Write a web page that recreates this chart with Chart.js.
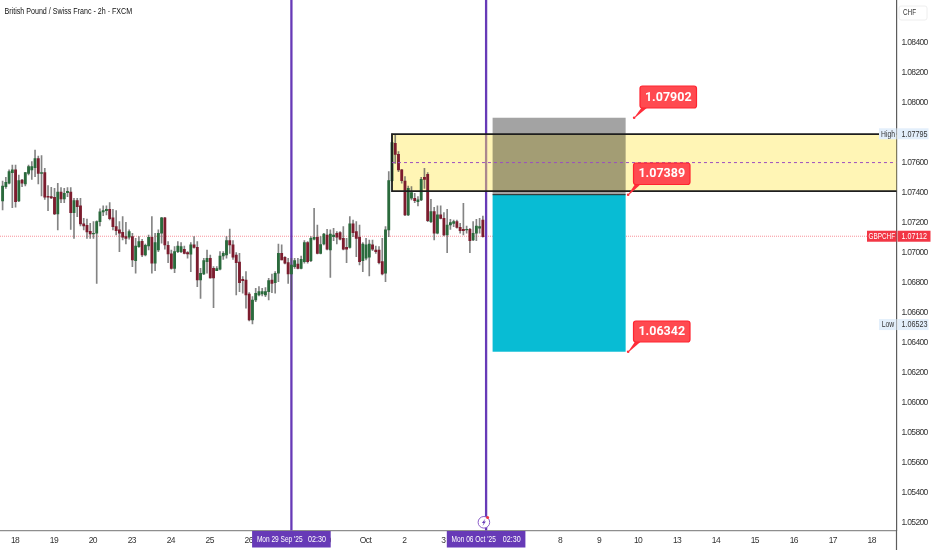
<!DOCTYPE html>
<html>
<head>
<meta charset="utf-8">
<title>GBPCHF 2h</title>
<script src="https://cdn.jsdelivr.net/npm/chart.js@4"></script>
<style>
    html, body { margin: 0; padding: 0; background: #fff; }
    canvas { display: block; }
</style>
</head>
<body>
<canvas id="Chart" width="932" height="550"></canvas>
<script>
var candleOpen = [1.07347,1.07443,1.07465,1.07536,1.07554,1.07347,1.07487,1.07460,1.07531,1.07554,1.07569,1.07629,1.07531,1.07536,1.07378,1.07376,1.07372,1.07260,1.07407,1.07360,
1.07403,1.07407,1.07269,1.07349,1.07314,1.07194,1.07185,1.07145,1.07127,1.07132,1.07209,1.07274,1.07283,1.07292,1.07234,1.07176,1.07154,1.07138,1.07109,1.07105,
1.07109,1.06949,1.07043,1.07078,1.06987,1.07047,1.07105,1.06932,1.07020,1.07132,1.07234,1.07052,1.06994,1.06898,1.07009,1.07009,1.07025,1.07003,1.06992,1.07054,
1.07038,1.06820,1.06860,1.06943,1.06965,1.06898,1.06883,1.06892,1.06980,1.06987,1.07083,1.07054,1.06987,1.06940,1.06825,1.06820,1.06727,1.06554,1.06687,1.06720,
1.06727,1.06720,1.06743,1.06820,1.06803,1.06865,1.06998,1.06972,1.06936,1.06860,1.06909,1.06927,1.06898,1.06943,1.07069,1.06949,1.07092,1.07105,1.06998,1.07060,
1.07120,1.07020,1.07109,1.07132,1.07136,1.07098,1.07038,1.07038,1.07194,1.07143,1.07105,1.06949,1.06965,1.06972,1.07054,1.07020,1.07020,1.06943,1.06865,1.07154,
1.07483,1.07731,1.07658,1.07554,1.07480,1.07254,1.07365,1.07365,1.07343,1.07354,1.07505,1.07525,1.07209,1.07276,1.07132,1.07254,1.07231,1.07120,1.07187,1.07198,
1.07209,1.07171,1.07158,1.07154,1.07158,1.07087,1.07132,1.07165,1.07220]
var candleHigh = [1.07480,1.07505,1.07554,1.07587,1.07587,1.07520,1.07491,1.07538,1.07587,1.07609,1.07687,1.07647,1.07649,1.07565,1.07449,1.07438,1.07431,1.07465,1.07436,1.07431,
1.07436,1.07436,1.07365,1.07365,1.07365,1.07231,1.07227,1.07198,1.07209,1.07214,1.07294,1.07314,1.07314,1.07336,1.07292,1.07283,1.07209,1.07243,1.07205,1.07154,
1.07132,1.07098,1.07109,1.07092,1.07060,1.07120,1.07243,1.07132,1.07154,1.07238,1.07238,1.07076,1.07020,1.07043,1.07076,1.07069,1.07047,1.07009,1.07069,1.07109,
1.07076,1.06898,1.06965,1.07020,1.06987,1.06909,1.06909,1.07009,1.07009,1.07109,1.07160,1.07083,1.07003,1.06998,1.06843,1.06876,1.06736,1.06709,1.06765,1.06776,
1.06765,1.06769,1.06832,1.06860,1.06876,1.07060,1.07054,1.06976,1.06965,1.06965,1.06965,1.06965,1.06980,1.07083,1.07076,1.07109,1.07298,1.07187,1.07109,1.07132,
1.07158,1.07154,1.07165,1.07143,1.07143,1.07176,1.07098,1.07243,1.07220,1.07209,1.07187,1.07069,1.07098,1.07087,1.07087,1.07047,1.07043,1.07098,1.07176,1.07543,
1.07794,1.07787,1.07676,1.07558,1.07509,1.07447,1.07443,1.07398,1.07376,1.07505,1.07565,1.07536,1.07358,1.07305,1.07314,1.07314,1.07269,1.07292,1.07225,1.07220,
1.07220,1.07198,1.07331,1.07180,1.07165,1.07209,1.07225,1.07231,1.07247]
var candleLow = [1.07287,1.07431,1.07460,1.07303,1.07305,1.07343,1.07443,1.07447,1.07520,1.07491,1.07509,1.07460,1.07380,1.07358,1.07283,1.07363,1.07256,1.07154,1.07336,1.07336,
1.07376,1.07158,1.07098,1.07243,1.07180,1.07154,1.07098,1.07098,1.07098,1.06798,1.07180,1.07249,1.07254,1.07220,1.07154,1.07120,1.07009,1.07087,1.07060,1.07092,
1.06909,1.06865,1.07038,1.06976,1.06980,1.07020,1.06865,1.06883,1.07009,1.07065,1.07025,1.06936,1.06892,1.06869,1.07003,1.07003,1.06994,1.06965,1.06876,1.07032,
1.06776,1.06698,1.06856,1.06865,1.06832,1.06636,1.06883,1.06887,1.06958,1.06965,1.06998,1.06958,1.06720,1.06743,1.06732,1.06632,1.06547,1.06527,1.06676,1.06714,
1.06714,1.06709,1.06687,1.06736,1.06732,1.06809,1.06954,1.06927,1.06798,1.06687,1.06898,1.06894,1.06894,1.06932,1.06932,1.06943,1.07087,1.06994,1.06994,1.07054,
1.07020,1.06838,1.07083,1.07060,1.07087,1.07020,1.06936,1.07032,1.07109,1.06976,1.06920,1.06876,1.06954,1.06847,1.07016,1.06998,1.06927,1.06854,1.06809,1.07109,
1.07476,1.07598,1.07543,1.07465,1.07249,1.07249,1.07354,1.07336,1.07314,1.07349,1.07431,1.07209,1.07203,1.07087,1.07127,1.07227,1.07114,1.07003,1.07158,1.07176,
1.07165,1.07132,1.07120,1.07132,1.07003,1.07083,1.07083,1.07132,1.07105]
var candleClose = [1.07447,1.07471,1.07543,1.07554,1.07343,1.07483,1.07465,1.07536,1.07576,1.07576,1.07629,1.07531,1.07536,1.07372,1.07372,1.07367,1.07260,1.07407,1.07360,1.07398,
1.07411,1.07269,1.07349,1.07309,1.07194,1.07180,1.07140,1.07127,1.07132,1.07209,1.07274,1.07283,1.07292,1.07229,1.07176,1.07149,1.07132,1.07105,1.07098,1.07143,
1.06954,1.07047,1.07076,1.06987,1.07052,1.07105,1.06932,1.07069,1.07132,1.07234,1.07054,1.06994,1.06898,1.07009,1.07047,1.07043,1.06998,1.06994,1.07054,1.07038,
1.06820,1.06865,1.06949,1.06965,1.06834,1.06834,1.06896,1.06980,1.06998,1.07083,1.07054,1.06972,1.06936,1.06803,1.06816,1.06720,1.06554,1.06687,1.06732,1.06743,
1.06743,1.06743,1.06816,1.06798,1.06865,1.06998,1.06954,1.06932,1.06860,1.06920,1.06949,1.06898,1.06958,1.07069,1.06943,1.07098,1.07105,1.06998,1.07056,1.07127,
1.07025,1.07127,1.07120,1.07105,1.07092,1.07025,1.07025,1.07194,1.07136,1.07098,1.06943,1.07060,1.07054,1.07060,1.07025,1.07009,1.06936,1.06860,1.07154,1.07483,
1.07736,1.07658,1.07554,1.07483,1.07254,1.07431,1.07403,1.07349,1.07354,1.07491,1.07491,1.07216,1.07276,1.07132,1.07254,1.07231,1.07120,1.07187,1.07203,1.07209,
1.07171,1.07149,1.07149,1.07158,1.07083,1.07132,1.07180,1.07176,1.07109]

var xTickLabels = ['18','19','20','23','24','25','26','29','30','Oct','2','3','6','7','8','9','10','13','14','15','16','17','18']
var firstDayTick = 3.82
var barsPerDay = 12
var yTickValues = [1.084,1.082,1.08,1.078,1.076,1.074,1.072,1.07,1.068,1.066,1.064,1.062,1.06,1.058,1.056,1.054,1.052]

var marketHigh = 1.07795
var marketLow = 1.06523
var lastPrice = 1.07112
var zoneTop = 1.07793
var zoneBottom = 1.07413
var zoneMiddle = 1.07603
var zoneStart = 120
var stopPrice = 1.07902
var entryPrice = 1.07389
var targetPrice = 1.06342
var tradeStart = 151
var tradeEnd = 192
var verticalBars = [89, 149]
var verticalDates = ["Mon 29 Sep '25", "Mon 06 Oct '25"]
var verticalTime = '02:30'

var smallFont = '8.5px "Liberation Sans"'
var tightText = '-0.65px'

var wickData = []
var bodyData = []
var bodyColors = []
for (var i = 0; i < candleOpen.length; i++) {
    wickData.push({ x: i, y: [candleLow[i], candleHigh[i]] })
    bodyData.push({ x: i, y: [candleOpen[i], candleClose[i]] })
    bodyColors.push(candleClose[i] >= candleOpen[i] ? '#2a6a3c' : '#7c1c2e')
}

var xTickValues = xTickLabels.map((l, k) => firstDayTick + k * barsPerDay)

function roundBox(ctx, x, y, w, h, r) {
    ctx.beginPath()
    ctx.roundRect(x, y, w, h, r)
}

// the reference text is a condensed face, none is installed
function narrowText(ctx, text, x, y, align, squeeze) {
    ctx.save()
    ctx.letterSpacing = '0px'
    ctx.translate(x, y)
    ctx.scale(squeeze, 1)
    ctx.textAlign = align
    ctx.textBaseline = 'middle'
    ctx.fillText(text, 0, 0)
    ctx.restore()
}

function callout(ctx, tipX, tipY, boxX, boxY, w, h, text) {
    ctx.fillStyle = '#ff2d3a'
    ctx.beginPath()
    ctx.moveTo(tipX, tipY)
    ctx.lineTo(boxX + 2, boxY + h - 1)
    ctx.lineTo(boxX + 8, boxY + h - 1)
    ctx.lineTo(tipX + 1.5, tipY - 0.5)
    ctx.closePath()
    ctx.fill()
    ctx.beginPath()
    ctx.arc(tipX, tipY, 1.3, 0, Math.PI * 2)
    ctx.fill()
    roundBox(ctx, boxX, boxY, w, h, 2.5)
    ctx.fillStyle = '#ff4a50'
    ctx.fill()
    ctx.strokeStyle = '#ff2430'
    ctx.lineWidth = 1.2
    ctx.stroke()
    ctx.fillStyle = '#fff'
    ctx.font = 'bold 12.5px Roboto'
    ctx.letterSpacing = '0px'
    ctx.textAlign = 'center'
    ctx.textBaseline = 'middle'
    ctx.fillText(text, boxX + w / 2, boxY + h / 2 + 0.5)
}

function axisTag(ctx, xa, y, text, tagText) {
    ctx.font = smallFont
    ctx.fillStyle = '#e3effb'
    ctx.fillRect(xa + 1, y - 5.5, 31, 11)
    ctx.fillRect(xa - 17.5, y - 5.5, 17.5, 11)
    ctx.fillStyle = '#333'
    narrowText(ctx, text, xa + 5, y + 0.5, 'left', 0.85)
    narrowText(ctx, tagText, xa - 8.5, y + 0.5, 'center', 0.8)
}

var drawingsPlugin = {
    id: 'drawings',
    beforeDraw(chart) {
        chart.ctx.letterSpacing = tightText
    },
    beforeDatasetsDraw(chart) {
        var ctx = chart.ctx
        var sx = chart.scales.x
        var sy = chart.scales.y
        var axisX = chart.chartArea.right
        var axisY = chart.chartArea.bottom

        ctx.save()

        // last price line
        ctx.strokeStyle = 'rgba(242,54,69,0.55)'
        ctx.lineWidth = 1
        ctx.setLineDash([1, 1])
        ctx.beginPath()
        ctx.moveTo(0, sy.getPixelForValue(lastPrice))
        ctx.lineTo(axisX - 29, sy.getPixelForValue(lastPrice))
        ctx.stroke()
        ctx.setLineDash([])

        // vertical lines
        ctx.strokeStyle = '#673ab7'
        ctx.lineWidth = 2.3
        verticalBars.forEach(b => {
            ctx.beginPath()
            ctx.moveTo(sx.getPixelForValue(b), 0)
            ctx.lineTo(sx.getPixelForValue(b), axisY)
            ctx.stroke()
        })

        // yellow zone
        var zx = sx.getPixelForValue(zoneStart)
        var zt = sy.getPixelForValue(zoneTop)
        var zb = sy.getPixelForValue(zoneBottom)
        ctx.fillStyle = 'rgba(255,232,90,0.45)'
        ctx.fillRect(zx, zt, axisX - zx, zb - zt)

        ctx.restore()
    },
    afterDatasetsDraw(chart) {
        var ctx = chart.ctx
        var sx = chart.scales.x
        var sy = chart.scales.y
        var axisX = chart.chartArea.right
        var axisY = chart.chartArea.bottom
        var zx = sx.getPixelForValue(zoneStart)
        var zt = sy.getPixelForValue(zoneTop)
        var zb = sy.getPixelForValue(zoneBottom)

        ctx.save()

        // trade boxes
        var tx1 = sx.getPixelForValue(tradeStart)
        var tx2 = sx.getPixelForValue(tradeEnd)
        var ty1 = sy.getPixelForValue(stopPrice)
        var ty2 = sy.getPixelForValue(entryPrice)
        var ty3 = sy.getPixelForValue(targetPrice)
        ctx.fillStyle = 'rgba(0,0,0,0.36)'
        ctx.fillRect(tx1, ty1, tx2 - tx1, ty2 - ty1)
        ctx.fillStyle = '#08bcd4'
        ctx.fillRect(tx1, ty2, tx2 - tx1, ty3 - ty2)
        ctx.strokeStyle = '#222'
        ctx.lineWidth = 1
        ctx.beginPath()
        ctx.moveTo(tx1, ty2)
        ctx.lineTo(tx2, ty2)
        ctx.stroke()

        // zone border and middle
        ctx.strokeStyle = '#1e1e1e'
        ctx.lineWidth = 1.8
        ctx.beginPath()
        ctx.moveTo(axisX, zt)
        ctx.lineTo(zx, zt)
        ctx.lineTo(zx, zb)
        ctx.lineTo(axisX, zb)
        ctx.stroke()
        ctx.strokeStyle = '#9c4fc0'
        ctx.lineWidth = 1
        ctx.setLineDash([3, 3])
        ctx.beginPath()
        ctx.moveTo(zx, sy.getPixelForValue(zoneMiddle))
        ctx.lineTo(axisX, sy.getPixelForValue(zoneMiddle))
        ctx.stroke()
        ctx.setLineDash([])

        // callouts
        callout(ctx, tx2 + 8.5, ty1, 640, 86, 56.5, 22, stopPrice.toFixed(5))
        callout(ctx, tx2 + 2.5, ty2, 633.5, 163, 56.5, 21.5, entryPrice.toFixed(5))
        callout(ctx, tx2 + 2.5, ty3, 633.5, 321, 56.5, 21, targetPrice.toFixed(5))

        // date tags on the time axis
        ctx.font = smallFont
        verticalBars.forEach((b, k) => {
            var px = sx.getPixelForValue(b)
            ctx.fillStyle = '#673ab7'
            ctx.fillRect(px - 39.3, axisY + 0.5, 78.6, 16.5)
            ctx.fillStyle = '#fff'
            narrowText(ctx, verticalDates[k], px - 34.5, axisY + 9, 'left', 0.77)
            narrowText(ctx, verticalTime, px + 34.5, axisY + 9, 'right', 0.84)
        })

        // lightning marker
        var lx = sx.getPixelForValue(verticalBars[1]) - 2.2
        ctx.fillStyle = '#fff'
        ctx.strokeStyle = '#8a5cc8'
        ctx.lineWidth = 1
        ctx.beginPath()
        ctx.arc(lx, 522.3, 5.8, 0, Math.PI * 2)
        ctx.fill()
        ctx.stroke()
        ctx.fillStyle = '#673ab7'
        ctx.beginPath()
        ctx.moveTo(lx + 1.6, 518.6)
        ctx.lineTo(lx - 2, 523)
        ctx.lineTo(lx - 0.2, 523)
        ctx.lineTo(lx - 1.4, 526)
        ctx.lineTo(lx + 2, 521.6)
        ctx.lineTo(lx + 0.2, 521.6)
        ctx.closePath()
        ctx.fill()
        ctx.fillStyle = '#f23645'
        ctx.beginPath()
        ctx.arc(lx + 3.7, 517.6, 1.5, 0, Math.PI * 2)
        ctx.fill()

        // price axis tags
        axisTag(ctx, axisX, sy.getPixelForValue(marketHigh), marketHigh.toFixed(5), 'High')
        axisTag(ctx, axisX, sy.getPixelForValue(marketLow), marketLow.toFixed(5), 'Low')
        var ly = sy.getPixelForValue(lastPrice)
        ctx.fillStyle = '#f23645'
        ctx.fillRect(axisX - 29.5, ly - 5.5, 29.5, 11)
        ctx.fillRect(axisX + 1, ly - 5.5, 33, 11)
        ctx.fillStyle = '#fff'
        narrowText(ctx, 'GBPCHF', axisX - 14.7, ly + 0.5, 'center', 0.75)
        narrowText(ctx, lastPrice.toFixed(5), axisX + 5, ly + 0.5, 'left', 0.85)

        // axis line runs on through the corner
        ctx.strokeStyle = '#5c5c5c'
        ctx.lineWidth = 1.2
        ctx.beginPath()
        ctx.moveTo(axisX, axisY)
        ctx.lineTo(axisX, 550)
        ctx.stroke()

        // currency button
        roundBox(ctx, axisX + 2.5, 6, 28, 14, 2)
        ctx.fillStyle = '#fff'
        ctx.fill()
        ctx.strokeStyle = '#eeeeee'
        ctx.lineWidth = 1
        ctx.stroke()
        ctx.fillStyle = '#333'
        narrowText(ctx, 'CHF', axisX + 13, 13, 'center', 0.75)

        // title
        ctx.fillStyle = '#111'
        ctx.font = '9px "Liberation Sans"'
        narrowText(ctx, 'British Pound / Swiss Franc - 2h - FXCM', 4.5, 11.5, 'left', 0.79)

        ctx.restore()
    }
}

new Chart(document.getElementById('Chart').getContext('2d'), {
    type: 'bar',
    data: {
        datasets: [
            { data: bodyData, backgroundColor: bodyColors, barThickness: 2.2, order: 1 },
            { data: wickData, backgroundColor: 'rgba(85,85,85,0.72)', barThickness: 1, order: 2 }
        ]
    },
    options: {
        responsive: false,
        animation: false,
        devicePixelRatio: 1,
        layout: { padding: 0 },
        plugins: { legend: { display: false }, tooltip: { enabled: false } },
        datasets: { bar: { grouped: false } },
        scales: {
            x: {
                type: 'linear',
                offset: false,
                min: -0.8,
                max: 275.47,
                grid: { display: false, tickLength: 0 },
                border: { color: '#8e8e8e', width: 1.3 },
                afterBuildTicks: s => { s.ticks = xTickValues.map(v => ({ value: v })) },
                afterFit: s => { s.height = 19.5; s.paddingLeft = 0; s.paddingRight = 0 },
                ticks: {
                    autoSkip: false,
                    maxRotation: 0,
                    padding: 5,
                    color: '#333',
                    font: { size: 8.5, family: '"Liberation Sans"' },
                    callback: (v, idx) => xTickLabels[idx]
                }
            },
            y: {
                type: 'linear',
                position: 'right',
                min: 1.0515,
                max: 1.08687,
                grid: { display: false, tickLength: 0 },
                border: { color: '#5c5c5c', width: 1.2 },
                afterBuildTicks: s => { s.ticks = yTickValues.map(v => ({ value: v })) },
                afterFit: s => { s.width = 35.5; s.paddingTop = 0; s.paddingBottom = 0 },
                ticks: {
                    padding: 5,
                    color: '#333',
                    font: { size: 8.5, family: '"Liberation Sans"' },
                    callback: v => v.toFixed(5)
                }
            }
        }
    },
    plugins: [drawingsPlugin]
})
</script>
</body>
</html>
